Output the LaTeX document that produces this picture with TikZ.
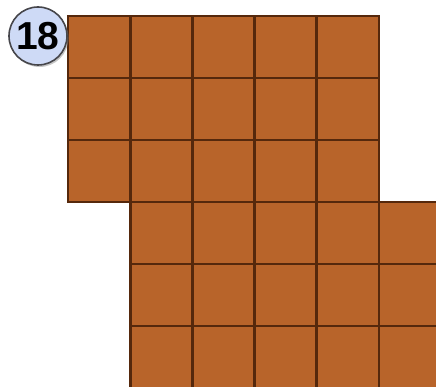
\documentclass[tikz,border=0pt]{standalone}
\usepackage{fontspec}
\setmainfont{Liberation Sans}
\usetikzlibrary{shadows}
\definecolor{tile}{RGB}{184,100,42}
\definecolor{tileline}{RGB}{85,40,12}
\definecolor{badge}{RGB}{206,218,246}
\definecolor{badgeline}{RGB}{70,70,75}
\tikzset{
  cell/.style={fill=tile,draw=tileline,line width=2.8pt},
  badgestyle/.style={circle,fill=badge,draw=badgeline,line width=1.6pt,minimum size=58pt,inner sep=0pt,
    drop shadow={shadow xshift=1.5pt,shadow yshift=-2pt,fill=black!45,opacity=0.5},
    font=\fontsize{39}{39}\selectfont\bfseries}
}
\begin{document}
\begin{tikzpicture}[x=1pt,y=1pt]
\useasboundingbox (0,0) rectangle (436,-387);
\begin{scope}
\clip (0,0) rectangle (436,-387);
\foreach \r in {0,1,2}{
  \foreach \c in {0,...,4}{
    \path[cell] (68+62.2*\c,-16-62*\r) rectangle ++(62.2,-62);
  }
}
\foreach \r in {3,4,5}{
  \foreach \c in {1,...,5}{
    \path[cell] (68+62.2*\c,-16-62*\r) rectangle ++(62.2,-62);
  }
}
\end{scope}
\node[badgestyle] (badge) at (38,-36) {18};
\end{tikzpicture}
\end{document}
